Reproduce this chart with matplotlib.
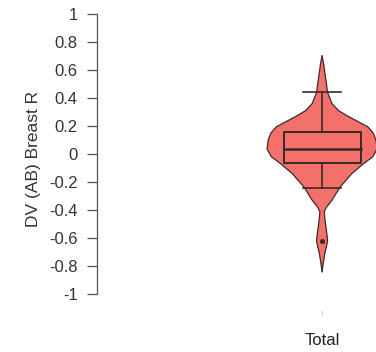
import numpy as np
import matplotlib
matplotlib.use('Agg')
import matplotlib.pyplot as plt

plt.rcParams['font.family'] = ['Liberation Sans', 'DejaVu Sans']

# violin outline: value -> relative half width (density)
dens_y = [0.70, 0.64, 0.58, 0.50, 0.44, 0.36, 0.31, 0.27, 0.23, 0.195, 0.15, 0.10,
          0.036, -0.02, -0.067, -0.14, -0.24, -0.33, -0.38, -0.41, -0.46, -0.52,
          -0.58, -0.62, -0.66, -0.71, -0.77, -0.84]
dens_w = [0.0, 0.03, 0.05, 0.08, 0.10, 0.18, 0.30, 0.47, 0.66, 0.83, 0.93, 0.98,
          1.0, 0.92, 0.76, 0.54, 0.32, 0.18, 0.08, 0.04, 0.05, 0.07,
          0.09, 0.10, 0.08, 0.05, 0.025, 0.0]

# box stats
q1, med, q3 = -0.064, 0.036, 0.157
wlo, whi = -0.24, 0.44
outliers = [-0.62]
category = 'Total'
ylab = 'DV (AB) Breast R'

fill_col = '#F4716B'
line_col = '#3a2a2a'

fig = plt.figure(figsize=(3.76, 3.52), dpi=100)
ax = fig.add_axes([97/376, 42/352, 279/376, 302/352])

dy = np.array(dens_y)
dw = np.array(dens_w)
ax.fill_betweenx(dy, -dw, dw, facecolor=fill_col, edgecolor='none', zorder=1)
ax.plot(dw, dy, color=line_col, lw=0.9, zorder=2)
ax.plot(-dw, dy, color=line_col, lw=0.9, zorder=2)

bw = 0.70
cw = 0.34
ax.plot([-bw, bw, bw, -bw, -bw], [q1, q1, q3, q3, q1], color=line_col, lw=1.4, zorder=3)
ax.plot([-bw, bw], [med, med], color=line_col, lw=1.8, zorder=3)
ax.plot([0, 0], [q3, whi], color=line_col, lw=1.2, zorder=3)
ax.plot([0, 0], [q1, wlo], color=line_col, lw=1.2, zorder=3)
ax.plot([-cw, cw], [whi, whi], color=line_col, lw=1.2, zorder=3)
ax.plot([-cw, cw], [wlo, wlo], color=line_col, lw=1.2, zorder=3)
ax.scatter([0] * len(outliers), outliers, s=7, color=line_col, zorder=4)

ax.set_xlim(-4.09, 0.98)
ax.set_ylim(-1.114, 1.043)
ax.set_xticks([0])
ax.set_xticklabels([category])
yt = np.round(np.arange(-1, 1.01, 0.2), 1)
ax.set_yticks(yt)
ax.set_yticklabels(['0' if v == 0 else ('%g' % v) for v in yt])

for s in ['top', 'right', 'bottom']:
    ax.spines[s].set_visible(False)
ax.spines['left'].set_bounds(-1, 1)
ax.spines['left'].set_color('#555555')
ax.spines['left'].set_linewidth(0.9)
ax.tick_params(axis='y', length=7, width=0.9, color='#555555', labelsize=12,
               labelcolor='#333333', pad=7)
ax.tick_params(axis='x', length=4.5, width=0.6, color='#cccccc', labelsize=12,
               labelcolor='#222222', pad=12)
ax.set_ylabel(ylab, fontsize=12.5, color='#333333', labelpad=6)

fig.savefig('out.png', dpi=100)
